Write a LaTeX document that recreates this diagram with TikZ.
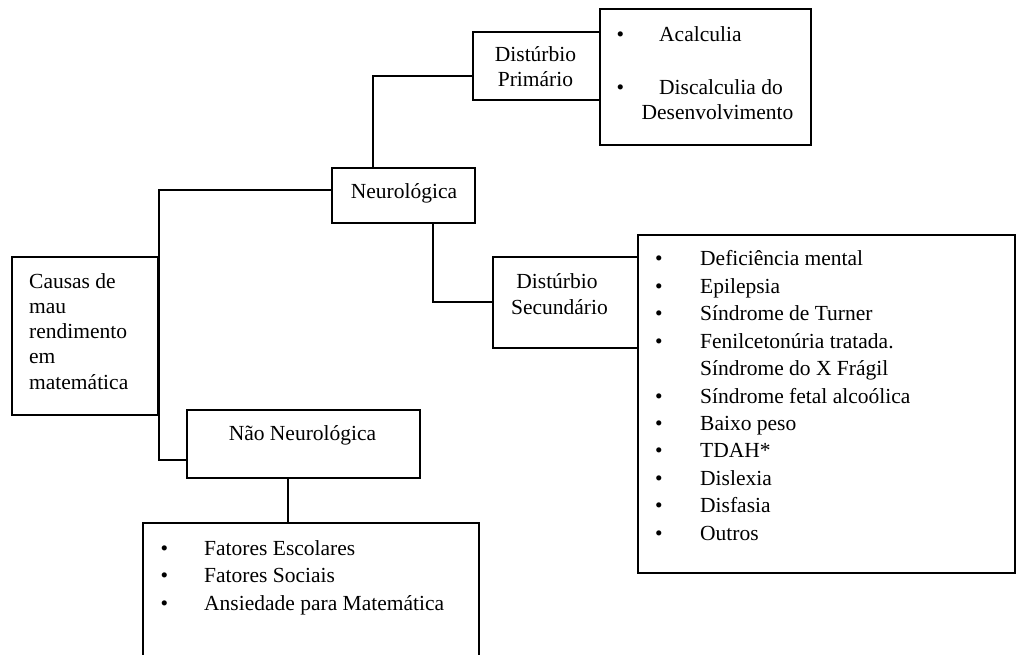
\documentclass[tikz,border=0pt]{standalone}
\usepackage{fontspec}
\setmainfont{Liberation Serif}
\newcommand\labelfont{\fontsize{21.5}{25}\selectfont}
\begin{document}
\begin{tikzpicture}[x=1pt, y=-1pt,
  box/.style={draw, line width=1.8pt, inner sep=0pt, anchor=north west},
  link/.style={draw, line width=1.8pt, line cap=rect},
  txt/.style={inner sep=0pt, font=\labelfont},
]
\useasboundingbox (0,0) rectangle (1018,655);
\clip (0,0) rectangle (1018,655);

% boxes
\node[box, minimum width=146pt, minimum height=158pt] (causas) at (11,256) {};
\node[box, minimum width=143pt, minimum height=55pt] (neuro) at (331,167) {};
\node[box, minimum width=127pt, minimum height=68pt] (prim) at (472,31) {};
\node[box, minimum width=211pt, minimum height=136pt] (acalc) at (599,8) {};
\node[box, minimum width=145pt, minimum height=91pt] (sec) at (492,256) {};
\node[box, minimum width=377pt, minimum height=338pt] (lista) at (637,234) {};
\node[box, minimum width=233pt, minimum height=68pt] (nao) at (186,409) {};
\node[box, minimum width=336pt, minimum height=170pt] (fatores) at (142,522) {};

% box labels
\foreach \t [count=\i] in {Causas de, mau, rendimento, em, matemática}
  \node[txt, anchor=base west] (causas-t\i) at (29, {288+25.3*(\i-1)}) {\t};
\node[txt, anchor=base] (neuro-t) at (404,199) {Neurológica};
\node[txt, anchor=base] (prim-t1) at (535.5,62) {Distúrbio};
\node[txt, anchor=base] (prim-t2) at (535.5,87) {Primário};
\node[txt, anchor=base] (sec-t1) at (557,288) {Distúrbio};
\node[txt, anchor=base] (sec-t2) at (559.5,314) {Secundário};
\node[txt, anchor=base] (nao-t) at (302.5,440) {Não Neurológica};

% primary disorders
\node[txt, anchor=base] (acalc-b1) at (620.5,42) {•};
\node[txt, anchor=base west] (acalc-t1) at (659,42) {Acalculia};
\node[txt, anchor=base] (acalc-b2) at (620.5,95) {•};
\node[txt, anchor=base west] (acalc-t2) at (659,95) {Discalculia do};
\node[txt, anchor=base] (acalc-t3) at (717.5,120) {Desenvolvimento};

% secondary disorders
\foreach \t [count=\i] in {Deficiência mental, Epilepsia, Síndrome de Turner,
    Fenilcetonúria tratada., Síndrome do X Frágil, Síndrome fetal alcoólica,
    Baixo peso, TDAH*, Dislexia, Disfasia, Outros}
  \node[txt, anchor=base west] (lista-t\i) at (700, {266+27.4*(\i-1)}) {\t};
\foreach \i in {1,2,3,4,6,7,8,9,10,11}
  \node[txt, anchor=base] (lista-b\i) at (659, {266+27.4*(\i-1)}) {•};

% non-neurological factors
\foreach \t [count=\i] in {Fatores Escolares, Fatores Sociais, Ansiedade para Matemática} {
  \node[txt, anchor=base] (fatores-b\i) at (164.3, {555+27.5*(\i-1)}) {•};
  \node[txt, anchor=base west] (fatores-t\i) at (204, {555+27.5*(\i-1)}) {\t};
}

% connectors
\coordinate (k1) at (373,76);
\coordinate (k2) at (433,0);
\coordinate (k3) at (0,190);
\coordinate (k4) at (0,460);
\coordinate (k5) at (288,0);
\draw[link] (neuro.north -| k1) |- (prim.west |- k1);
\draw[link] (neuro.south -| k2) |- (sec.west);
\draw[link] (neuro.west |- k3) -| (causas.east) |- (nao.west |- k4);
\draw[link] (nao.south -| k5) -- (fatores.north -| k5);
\end{tikzpicture}
\end{document}
